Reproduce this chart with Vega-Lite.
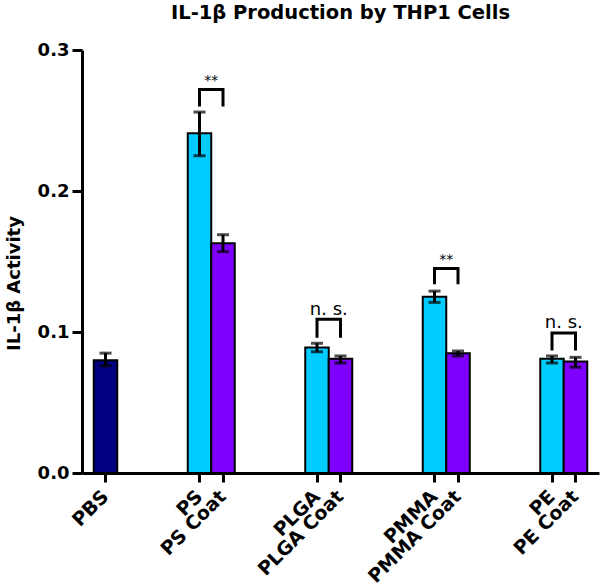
{
  "$schema": "https://vega.github.io/schema/vega-lite/v6.json",
  "width": 517,
  "height": 423,
  "autosize": {"type": "none"},
  "padding": {"left": 82, "top": 50, "right": 1, "bottom": 115},
  "background": "white",
  "config": {
    "font": "DejaVu Sans",
    "view": {"stroke": null},
    "axis": {"grid": false, "domainColor": "black", "domainWidth": 3, "tickColor": "black", "tickWidth": 3, "labelColor": "black", "titleColor": "black", "labelFont": "DejaVu Sans", "titleFont": "DejaVu Sans", "labelFontWeight": "bold", "titleFontWeight": "bold"}
  },
  "title": {"text": "IL-1β Production by THP1 Cells", "fontSize": 19.5, "fontWeight": "bold", "font": "DejaVu Sans", "color": "black", "anchor": "middle", "frame": "group", "offset": 18},
  "datasets": {
    "bars": [
      {"cat": "PBS", "kind": "PBS", "value": 0.080, "lo": 0.076, "hi": 0.085},
      {"cat": "PS", "kind": "Uncoated", "value": 0.241, "lo": 0.225, "hi": 0.256},
      {"cat": "PS Coat", "kind": "Coated", "value": 0.163, "lo": 0.157, "hi": 0.169},
      {"cat": "PLGA", "kind": "Uncoated", "value": 0.089, "lo": 0.086, "hi": 0.092},
      {"cat": "PLGA Coat", "kind": "Coated", "value": 0.081, "lo": 0.078, "hi": 0.083},
      {"cat": "PMMA", "kind": "Uncoated", "value": 0.125, "lo": 0.121, "hi": 0.129},
      {"cat": "PMMA Coat", "kind": "Coated", "value": 0.085, "lo": 0.083, "hi": 0.0865},
      {"cat": "PE", "kind": "Uncoated", "value": 0.081, "lo": 0.078, "hi": 0.083},
      {"cat": "PE Coat", "kind": "Coated", "value": 0.079, "lo": 0.075, "hi": 0.082}
    ],
    "brackets": [
      {"br": "PS", "cat": "PS", "y": 0.261, "o": 1},
      {"br": "PS", "cat": "PS", "y": 0.272, "o": 2},
      {"br": "PS", "cat": "PS Coat", "y": 0.272, "o": 3},
      {"br": "PS", "cat": "PS Coat", "y": 0.261, "o": 4},
      {"br": "PLGA", "cat": "PLGA", "y": 0.097, "o": 1},
      {"br": "PLGA", "cat": "PLGA", "y": 0.109, "o": 2},
      {"br": "PLGA", "cat": "PLGA Coat", "y": 0.109, "o": 3},
      {"br": "PLGA", "cat": "PLGA Coat", "y": 0.097, "o": 4},
      {"br": "PMMA", "cat": "PMMA", "y": 0.135, "o": 1},
      {"br": "PMMA", "cat": "PMMA", "y": 0.145, "o": 2},
      {"br": "PMMA", "cat": "PMMA Coat", "y": 0.145, "o": 3},
      {"br": "PMMA", "cat": "PMMA Coat", "y": 0.135, "o": 4},
      {"br": "PE", "cat": "PE", "y": 0.088, "o": 1},
      {"br": "PE", "cat": "PE", "y": 0.0993, "o": 2},
      {"br": "PE", "cat": "PE Coat", "y": 0.0993, "o": 3},
      {"br": "PE", "cat": "PE Coat", "y": 0.088, "o": 4}
    ],
    "marks": [
      {"cat": "PS", "y": 0.2755, "label": "**", "size": 14},
      {"cat": "PLGA", "y": 0.112, "label": "n. s.", "size": 18},
      {"cat": "PMMA", "y": 0.1485, "label": "**", "size": 14},
      {"cat": "PE", "y": 0.1025, "label": "n. s.", "size": 18}
    ]
  },
  "layer": [
    {
      "data": {"name": "bars"},
      "mark": {"type": "bar", "stroke": "black", "strokeWidth": 2},
      "encoding": {
        "x": {
          "field": "cat", "type": "nominal",
          "scale": {"domain": ["PBS", "s1", "s2", "s3", "PS", "PS Coat", "s4", "s5", "s6", "PLGA", "PLGA Coat", "s7", "s8", "s9", "PMMA", "PMMA Coat", "s10", "s11", "s12", "PE", "PE Coat"], "paddingInner": 0, "paddingOuter": 0.5},
          "axis": {"title": null, "values": ["PBS", "PS", "PS Coat", "PLGA", "PLGA Coat", "PMMA", "PMMA Coat", "PE", "PE Coat"], "labelAngle": -45, "labelAlign": "right", "labelBaseline": "middle", "labelFontSize": 19, "tickSize": 9, "labelPadding": 11}
        },
        "y": {
          "field": "value", "type": "quantitative",
          "scale": {"domain": [0, 0.3], "nice": false, "zero": true},
          "axis": {"title": "IL-1β Activity", "values": [0, 0.1, 0.2, 0.3], "format": ".1f", "labelFontSize": 18, "titleFontSize": 18, "tickSize": 10, "labelPadding": 3, "titlePadding": 14, "titleY": 233}
        },
        "fill": {
          "field": "kind", "type": "nominal",
          "scale": {"domain": ["PBS", "Uncoated", "Coated"], "range": ["#000080", "#00ccff", "#8000ff"]},
          "legend": null
        }
      }
    },
    {
      "data": {"name": "bars"},
      "mark": {"type": "rule", "color": "black", "strokeWidth": 3},
      "encoding": {
        "x": {"field": "cat", "type": "nominal"},
        "y": {"field": "lo", "type": "quantitative"},
        "y2": {"field": "hi"}
      }
    },
    {
      "data": {"name": "bars"},
      "mark": {"type": "tick", "color": "black", "thickness": 3, "size": 12},
      "encoding": {
        "x": {"field": "cat", "type": "nominal"},
        "y": {"field": "lo", "type": "quantitative"}
      }
    },
    {
      "data": {"name": "bars"},
      "mark": {"type": "tick", "color": "black", "thickness": 3, "size": 12},
      "encoding": {
        "x": {"field": "cat", "type": "nominal"},
        "y": {"field": "hi", "type": "quantitative"}
      }
    },
    {
      "data": {"name": "brackets"},
      "mark": {"type": "line", "color": "black", "strokeWidth": 3, "strokeJoin": "miter", "strokeCap": "square"},
      "encoding": {
        "x": {"field": "cat", "type": "nominal"},
        "y": {"field": "y", "type": "quantitative"},
        "detail": {"field": "br"},
        "order": {"field": "o", "type": "quantitative"}
      }
    },
    {
      "data": {"name": "marks"},
      "mark": {"type": "text", "color": "black", "baseline": "alphabetic", "align": "center"},
      "encoding": {
        "x": {"field": "cat", "type": "nominal", "bandPosition": 1},
        "y": {"field": "y", "type": "quantitative"},
        "text": {"field": "label"},
        "size": {"field": "size", "type": "quantitative", "scale": null}
      }
    }
  ]
}
